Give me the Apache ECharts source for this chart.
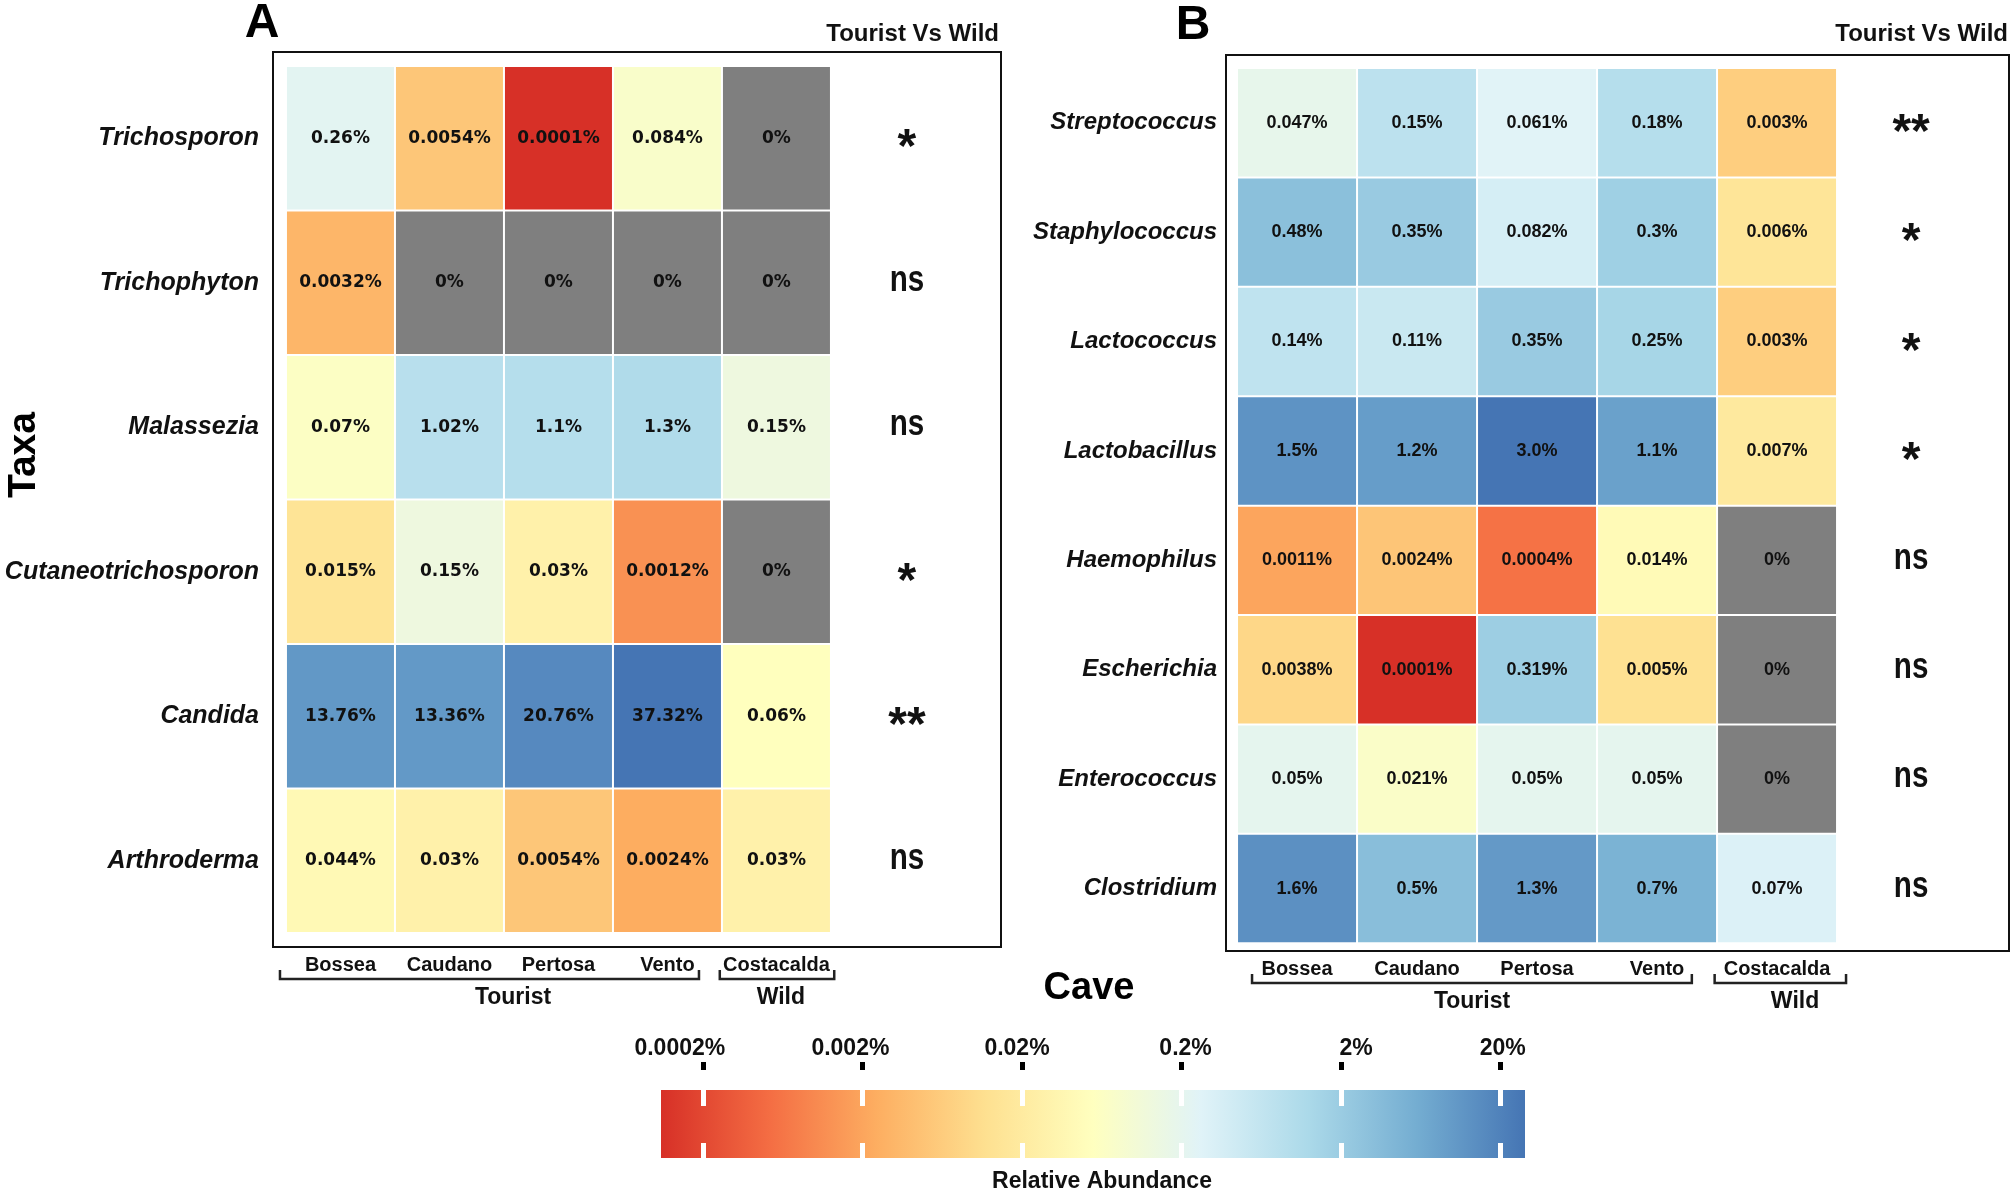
<!DOCTYPE html>
<html><head><meta charset="utf-8">
<script src="https://cdn.jsdelivr.net/npm/echarts@6/dist/echarts.min.js"></script>
<style>html,body{margin:0;padding:0;background:#fff}#c{width:2013px;height:1195px}</style>
</head><body><div id="c"></div>
<script>
// ---------------- data ----------------
const caves = ['Bossea', 'Caudano', 'Pertosa', 'Vento', 'Costacalda'];
const caveGroups = ['Tourist', 'Wild'];

const fungiTaxa = ['Trichosporon', 'Trichophyton', 'Malassezia', 'Cutaneotrichosporon', 'Candida', 'Arthroderma'];
const fungiAbundance = [            // relative abundance, %
  ['0.26', '0.0054', '0.0001', '0.084', '0'],
  ['0.0032', '0', '0', '0', '0'],
  ['0.07', '1.02', '1.1', '1.3', '0.15'],
  ['0.015', '0.15', '0.03', '0.0012', '0'],
  ['13.76', '13.36', '20.76', '37.32', '0.06'],
  ['0.044', '0.03', '0.0054', '0.0024', '0.03']
];
const fungiSignif = ['*', 'ns', 'ns', '*', '**', 'ns'];

const bacteriaTaxa = ['Streptococcus', 'Staphylococcus', 'Lactococcus', 'Lactobacillus', 'Haemophilus', 'Escherichia', 'Enterococcus', 'Clostridium'];
const bacteriaAbundance = [
  ['0.047', '0.15', '0.061', '0.18', '0.003'],
  ['0.48', '0.35', '0.082', '0.3', '0.006'],
  ['0.14', '0.11', '0.35', '0.25', '0.003'],
  ['1.5', '1.2', '3.0', '1.1', '0.007'],
  ['0.0011', '0.0024', '0.0004', '0.014', '0'],
  ['0.0038', '0.0001', '0.319', '0.005', '0'],
  ['0.05', '0.021', '0.05', '0.05', '0'],
  ['1.6', '0.5', '1.3', '0.7', '0.07']
];
const bacteriaSignif = ['**', '*', '*', '*', 'ns', 'ns', 'ns', 'ns'];

const colorbarBreaks = [0.0002, 0.002, 0.02, 0.2, 2, 20];   // % tick labels

// ---------------- styles / layout ----------------
const palette = ['#d73027', '#f46d43', '#fdae61', '#fee090', '#ffffbf', '#e0f3f8', '#abd9e9', '#74add1', '#4575b4'];
const naColor = '#7f7f7f';
const FF = '"Liberation Sans", Arial, sans-serif';
const layout = {
  A: { left: 273, top: 52, width: 728, height: 895, xMin: -0.619, xMax: 6.06, yMin: -0.597, yMax: 5.597,
       signifX: 5.197, yLabelMargin: 14, yLabelSize: 25, cellFont: 'bold 17px "DejaVu Sans", sans-serif',
       spans: [[-0.555, 3.289, 1.583], [3.48, 4.53, 4.04]] },
  B: { left: 1226, top: 55, width: 783, height: 896, xMin: -0.592, xMax: 5.933, yMin: -0.619, yMax: 7.571,
       signifX: 5.117, yLabelMargin: 9, yLabelSize: 24, cellFont: 'bold 18px ' + FF,
       spans: [[-0.375, 3.29, 1.458], [3.48, 4.575, 4.15]] },
  CB: { left: 661, top: 1090, width: 864, height: 68, min: -3.961, max: 1.453,
        labelShift: [-23, -12, -5, 4, 15, 2] }
};

function toCells(abund) {
  const out = [];
  abund.forEach((row, j) => row.forEach((v, i) => {
    const n = Number(v);
    out.push([i, j, n > 0 ? Math.log10(n) : NaN]);
  }));
  return out;
}
function logRange(abund) {
  const vals = abund.flat().map(Number).filter(v => v > 0).map(v => Math.log10(v));
  return [Math.min(...vals), Math.max(...vals)];
}
const fungiRange = logRange(fungiAbundance);
const bacteriaRange = logRange(bacteriaAbundance);

function cellRenderer(abund, font) {
  return function (params, api) {
    const i = api.value(0), j = api.value(1);
    const tl = api.coord([i - 0.5, j - 0.5]);
    const br = api.coord([i + 0.5, j + 0.5]);
    const raw = abund[j][i];
    const fill = Number(raw) === 0 ? naColor : api.visual('color');
    return { type: 'group', children: [
      { type: 'rect', shape: { x: tl[0] + 1, y: tl[1] + 1, width: br[0] - tl[0] - 2, height: br[1] - tl[1] - 2 },
        style: { fill: fill } },
      { type: 'text', style: { text: raw + '%', x: (tl[0] + br[0]) / 2, y: (tl[1] + br[1]) / 2,
        align: 'center', verticalAlign: 'middle', font: font, fill: '#111' } }
    ]};
  };
}
function signifRenderer(labels) {
  return function (params, api) {
    const p = api.coord([api.value(0), api.value(1)]);
    const t = labels[params.dataIndex];
    const isStar = t.indexOf('*') >= 0;
    return { type: 'text', x: p[0], y: p[1] + (isStar ? 11 : -2), scaleX: isStar ? 1 : 0.8,
      style: { text: t, x: 0, y: 0, align: 'center', verticalAlign: 'middle',
      font: (isStar ? 'bold 48px ' : 'bold 37px ') + FF, fill: '#111' } };
  };
}
function bracketRenderer(params, api) {
  const cs = params.coordSys;
  const b = cs.y + cs.height;
  const x0 = api.coord([api.value(0), 0])[0];
  const x1 = api.coord([api.value(1), 0])[0];
  const xl = api.coord([api.value(2), 0])[0];
  return { type: 'group', children: [
    { type: 'polyline', shape: { points: [[x0, b + 23], [x0, b + 32], [x1, b + 32], [x1, b + 23]] },
      style: { stroke: '#222', lineWidth: 2.5, fill: null } },
    { type: 'text', style: { text: caveGroups[params.dataIndex], x: xl, y: b + 51, align: 'center', verticalAlign: 'middle',
      font: 'bold 23px ' + FF, fill: '#111' } }
  ]};
}
function colorbarRenderer(params, api) {
  const p0 = api.coord([api.value(0), 0]);
  const p1 = api.coord([api.value(1), 1]);
  return { type: 'rect', shape: { x: p0[0], y: p1[1], width: p1[0] - p0[0], height: p0[1] - p1[1] },
    style: { fill: { type: 'linear', x: 0, y: 0, x2: 1, y2: 0,
      colorStops: palette.map((c, k) => ({ offset: k / (palette.length - 1), color: c })) } } };
}

function gridOf(L) {
  return { left: L.left, top: L.top, width: L.width, height: L.height, show: true, borderColor: '#111',
    borderWidth: 2, backgroundColor: 'transparent', containLabel: false, outerBoundsMode: 'none' };
}
function xAxisOf(idx, L) {
  const vals = caves.map((c, i) => i);
  return { gridIndex: idx, type: 'value', min: L.xMin, max: L.xMax, position: 'bottom',
    axisLine: { show: false }, splitLine: { show: false },
    axisTick: { show: true, customValues: vals, length: 5, lineStyle: { color: '#222', width: 1.5 } },
    axisLabel: { show: true, customValues: vals, margin: 8, formatter: v => caves[Math.round(v)],
      fontFamily: FF, fontWeight: 'bold', fontSize: 20, color: '#111' } };
}
function yAxisOf(idx, L, taxa) {
  const vals = taxa.map((t, j) => j);
  return { gridIndex: idx, type: 'value', inverse: true, min: L.yMin, max: L.yMax,
    axisLine: { show: false }, splitLine: { show: false },
    axisTick: { show: true, customValues: vals, length: 6, lineStyle: { color: '#222', width: 1.5 } },
    axisLabel: { show: true, customValues: vals, margin: L.yLabelMargin, formatter: v => taxa[Math.round(v)],
      fontFamily: FF, fontWeight: 'bold', fontStyle: 'italic', fontSize: L.yLabelSize, color: '#111' } };
}

const logBreaks = colorbarBreaks.map(v => Math.log10(v));
const CB = layout.CB;
const cbRich = {};
CB.labelShift.forEach((s, k) => {
  cbRich['s' + k] = { fontFamily: FF, fontWeight: 'bold', fontSize: 23, color: '#111',
    padding: [0, s < 0 ? -2 * s : 0, 0, s > 0 ? 2 * s : 0] };
});
function cbIndex(v) { return logBreaks.findIndex(b => Math.abs(b - v) < 1e-6); }

const option = {
  animation: false,
  backgroundColor: '#fff',
  grid: [gridOf(layout.A), gridOf(layout.B),
    { left: CB.left, top: CB.top, width: CB.width, height: CB.height, show: false, containLabel: false, outerBoundsMode: 'none' }],
  xAxis: [
    xAxisOf(0, layout.A), xAxisOf(1, layout.B),
    // tick labels of the colour bar
    { gridIndex: 2, type: 'value', min: CB.min, max: CB.max, position: 'top', offset: 20, z: 10,
      axisLine: { show: false }, splitLine: { show: false }, axisTick: { show: false },
      axisLabel: { show: true, customValues: logBreaks, margin: 10,
        formatter: v => { const k = cbIndex(v); return '{s' + k + '|' + colorbarBreaks[k] + '%}'; },
        rich: cbRich, fontFamily: FF, fontWeight: 'bold', fontSize: 23, color: '#111' } },
    // black tick marks above the bar
    { gridIndex: 2, type: 'value', min: CB.min, max: CB.max, position: 'top', offset: 28, z: 10,
      axisLine: { show: false }, splitLine: { show: false }, axisLabel: { show: false },
      axisTick: { show: true, inside: true, customValues: logBreaks, length: 8, lineStyle: { color: '#000', width: 5 } } },
    // white ticks inside the bar
    { gridIndex: 2, type: 'value', min: CB.min, max: CB.max, position: 'top', z: 10,
      axisLine: { show: false }, splitLine: { show: false }, axisLabel: { show: false },
      axisTick: { show: true, inside: true, customValues: logBreaks, length: 16, lineStyle: { color: '#fff', width: 5 } } },
    { gridIndex: 2, type: 'value', min: CB.min, max: CB.max, position: 'bottom', z: 10,
      axisLine: { show: false }, splitLine: { show: false }, axisLabel: { show: false },
      axisTick: { show: true, inside: true, customValues: logBreaks, length: 15, lineStyle: { color: '#fff', width: 5 } } }
  ],
  yAxis: [
    yAxisOf(0, layout.A, fungiTaxa), yAxisOf(1, layout.B, bacteriaTaxa),
    { gridIndex: 2, type: 'value', min: 0, max: 1, show: false }
  ],
  visualMap: [
    { type: 'continuous', show: false, seriesIndex: 0, dimension: 2, min: fungiRange[0], max: fungiRange[1],
      inRange: { color: palette }, outOfRange: { color: naColor } },
    { type: 'continuous', show: false, seriesIndex: 3, dimension: 2, min: bacteriaRange[0], max: bacteriaRange[1],
      inRange: { color: palette }, outOfRange: { color: naColor } }
  ],
  series: [
    { type: 'custom', name: 'Fungi', xAxisIndex: 0, yAxisIndex: 0, data: toCells(fungiAbundance),
      renderItem: cellRenderer(fungiAbundance, layout.A.cellFont), clip: false },
    { type: 'custom', name: 'FungiSignif', xAxisIndex: 0, yAxisIndex: 0,
      data: fungiSignif.map((s, j) => [layout.A.signifX, j]), renderItem: signifRenderer(fungiSignif), clip: false },
    { type: 'custom', name: 'FungiGroups', xAxisIndex: 0, yAxisIndex: 0, data: layout.A.spans,
      renderItem: bracketRenderer, clip: false },
    { type: 'custom', name: 'Bacteria', xAxisIndex: 1, yAxisIndex: 1, data: toCells(bacteriaAbundance),
      renderItem: cellRenderer(bacteriaAbundance, layout.B.cellFont), clip: false },
    { type: 'custom', name: 'BacteriaSignif', xAxisIndex: 1, yAxisIndex: 1,
      data: bacteriaSignif.map((s, j) => [layout.B.signifX, j]), renderItem: signifRenderer(bacteriaSignif), clip: false },
    { type: 'custom', name: 'BacteriaGroups', xAxisIndex: 1, yAxisIndex: 1, data: layout.B.spans,
      renderItem: bracketRenderer, clip: false },
    { type: 'custom', name: 'Colorbar', xAxisIndex: 2, yAxisIndex: 2, data: [[CB.min, CB.max]],
      renderItem: colorbarRenderer, z: 1, clip: false }
  ],
  graphic: [
    { type: 'text', x: 262, y: 24, style: { text: 'A', font: 'bold 48px ' + FF, fill: '#000', align: 'center', verticalAlign: 'middle' } },
    { type: 'text', x: 1193, y: 26, style: { text: 'B', font: 'bold 48px ' + FF, fill: '#000', align: 'center', verticalAlign: 'middle' } },
    { type: 'text', x: 999, y: 34, style: { text: 'Tourist Vs Wild', font: 'bold 24px ' + FF, fill: '#111', align: 'right', verticalAlign: 'middle' } },
    { type: 'text', x: 2008, y: 34, style: { text: 'Tourist Vs Wild', font: 'bold 24px ' + FF, fill: '#111', align: 'right', verticalAlign: 'middle' } },
    { type: 'text', x: 24, y: 455, rotation: Math.PI / 2, style: { text: 'Taxa', font: 'bold 39px ' + FF, fill: '#000', align: 'center', verticalAlign: 'middle' } },
    { type: 'text', x: 1089, y: 989, style: { text: 'Cave', font: 'bold 38px ' + FF, fill: '#000', align: 'center', verticalAlign: 'middle' } },
    { type: 'text', x: 1102, y: 1182, style: { text: 'Relative Abundance', font: 'bold 23px ' + FF, fill: '#111', align: 'center', verticalAlign: 'middle' } }
  ]
};

const chart = echarts.init(document.getElementById('c'), null, { renderer: 'canvas' });
chart.setOption(option);
</script>
</body></html>
